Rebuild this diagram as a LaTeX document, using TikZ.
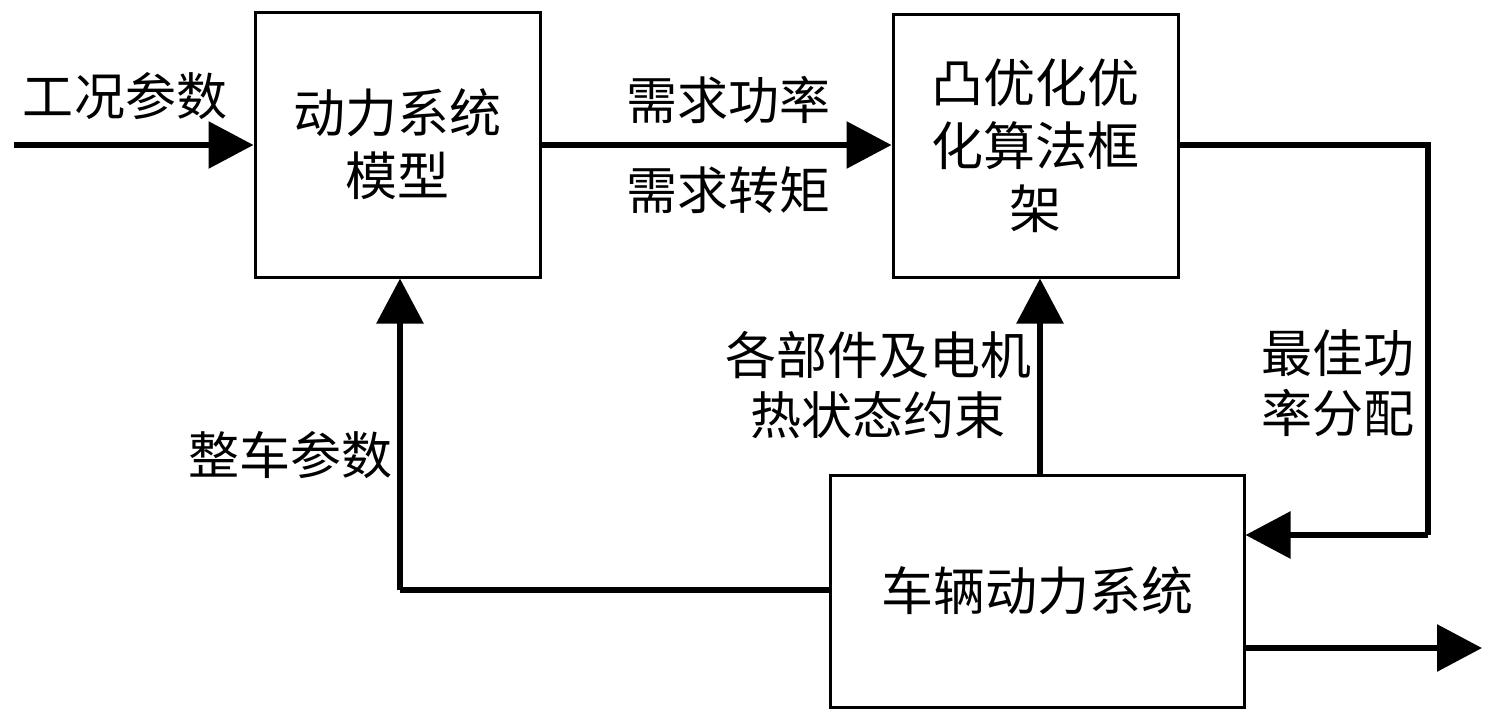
\documentclass[tikz,border=0pt]{standalone}
\usepackage{fontspec}
\setmainfont{Noto Sans CJK SC}
\usetikzlibrary{arrows.meta}
\begin{document}
\begin{tikzpicture}[x=1pt,y=-1pt,
  blk/.style={draw=black,line width=3pt,rectangle,inner sep=0pt,align=center,font=\fontsize{52}{63}\selectfont},
  lbl/.style={inner sep=0pt,align=center,font=\fontsize{51}{60}\selectfont},
  arr/.style={line width=6pt,-{Triangle[length=45pt,width=46pt]}},
  ln/.style={line width=6pt}]
\useasboundingbox[fill=white] (0,0) rectangle (1496,721);
\node[blk,minimum width=285pt,minimum height=265pt] (b1) at (397.5,144.5) {动力系统\\模型};
\node[blk,minimum width=285pt,minimum height=263pt] (b2) at (1035.5,145.5) {凸优化优\\化算法框\\架};
\node[blk,minimum width=414pt,minimum height=232pt] (b3) at (1037,591) {车辆动力系统};
\coordinate (in) at (14,145);
\coordinate (c1) at (1428,145);
\coordinate (c2) at (1428,535);
\coordinate (c3) at (400,590);
\coordinate (c4) at (1040,475);
\coordinate (out) at (1482,648);
\draw[arr] (in) -- (in -| b1.west);
\draw[arr] (b1.east |- in) -- (in -| b2.west);
\draw[ln] (b2.east |- c1) -- (c1) -- (c2);
\draw[arr] (c2) -- (c2 -| b3.east);
\draw[arr] (c4) -- (c4 |- b2.south);
\draw[ln] (b3.west |- c3) -- (c3);
\draw[arr] (c3) -- (c3 |- b1.south);
\draw[arr] (b3.east |- out) -- (out);
\node[lbl] (l1) at (125,96) {工况参数};
\node[lbl] (l2) at (728,100) {需求功率};
\node[lbl] (l3) at (728,190) {需求转矩};
\node[lbl] (l4) at (878,385) {各部件及电机\\热状态约束};
\node[lbl] (l5) at (290,455) {整车参数};
\node[lbl] (l6) at (1338,383) {最佳功\\率分配};
\end{tikzpicture}
\end{document}
